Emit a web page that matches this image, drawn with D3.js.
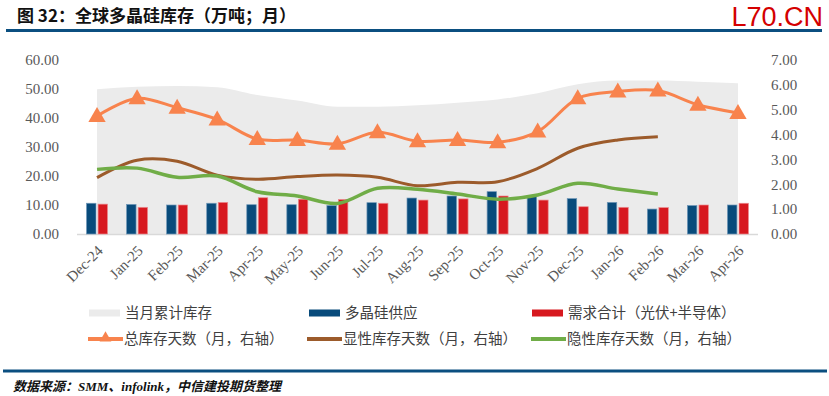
<!DOCTYPE html>
<head>
  <meta charset="utf-8">
  <script src="https://cdn.jsdelivr.net/npm/d3@7"></script>
  <style>
    body { margin:0; background:white; }
    svg { display:block; }
    .axis text { font-family: "Liberation Serif", serif; font-size: 15px; fill: #595959; }
    .legend text { font-family: "Noto Sans CJK SC", sans-serif; font-size: 14.5px; fill: #404040; }
  </style>
</head>

<body>
  <script>
    var months = ["Dec-24","Jan-25","Feb-25","Mar-25","Apr-25","May-25","Jun-25","Jul-25","Aug-25",
                  "Sep-25","Oct-25","Nov-25","Dec-25","Jan-26","Feb-26","Mar-26","Apr-26"];
    // 当月累计库存 (万吨, left axis)
    var stock = [49.9,50.8,51.0,50.6,47.9,46.0,43.9,43.9,44.4,45.3,46.4,48.5,51.6,52.9,52.9,52.5,52.0];
    // 多晶硅供应
    var supply = [10.6,10.2,10.0,10.6,10.1,10.1,9.8,10.8,12.4,13.1,14.6,12.9,12.2,10.9,8.6,9.8,10.0];
    // 需求合计（光伏+半导体）
    var demand = [10.3,9.2,10.0,10.9,12.5,12.0,11.9,10.6,11.7,12.1,13.1,11.7,9.4,9.2,9.1,10.0,10.6];
    // 总库存天数 (月, right axis)
    var totalDays = [4.75,5.46,5.08,4.61,3.82,3.78,3.63,4.09,3.73,3.78,3.69,4.12,5.46,5.73,5.77,5.20,4.87];
    // 显性库存天数 (to Feb-26)
    var visibleDays = [2.27,2.97,2.93,2.37,2.20,2.31,2.37,2.28,1.94,2.08,2.10,2.64,3.45,3.78,3.91];
    // 隐性库存天数 (to Feb-26)
    var hiddenDays = [2.60,2.65,2.28,2.33,1.70,1.53,1.23,1.84,1.80,1.61,1.40,1.57,2.04,1.81,1.61];
    var leftTicks = [0,10,20,30,40,50,60];
    var rightTicks = [0,1,2,3,4,5,6,7];

    var width = 829, height = 396;
    var svg = d3.select("body").append("svg").attr("width", width).attr("height", height);

    // header
    svg.append("text").attr("x", 17).attr("y", 22)
      .style("font-family", "'Noto Sans CJK SC', sans-serif").style("font-size", "17px")
      .style("font-weight", "bold").attr("fill", "#111")
      .text("图 32：全球多晶硅库存（万吨；月）");
    svg.append("text").attr("x", 823).attr("y", 26).attr("text-anchor", "end")
      .style("font-family", "'Liberation Sans', Arial, sans-serif").style("font-size", "27px")
      .attr("fill", "#d40000").text("L70.CN");
    svg.append("rect").attr("x", 6).attr("y", 29).attr("width", 816).attr("height", 3).attr("fill", "#0b4f80");

    var x = d3.scaleBand().domain(months).range([77, 758]);
    var sub = d3.scaleBand().domain(["supply","demand"]).range([-10.5, 10.5]).paddingInner(0.18);
    var yL = d3.scaleLinear().domain([0, 60]).range([234, 60]);
    var yR = d3.scaleLinear().domain([0, 7]).range([234, 60]);
    var cx = function(i) { return x(months[i]) + x.bandwidth() / 2; };

    // stock area
    svg.append("path")
      .datum(stock)
      .attr("fill", "#ebebeb")
      .attr("d", d3.area().curve(d3.curveMonotoneX)
        .x(function(d, i) { return cx(i); })
        .y0(yL(0)).y1(function(d) { return yL(d); }));

    // axis base line
    svg.append("line").attr("x1", 77).attr("x2", 758).attr("y1", 234.5).attr("y2", 234.5)
      .attr("stroke", "#d9d9d9").attr("stroke-width", 1.5);

    // bars
    var bars = svg.append("g");
    bars.selectAll("rect.supply").data(supply).enter().append("rect")
      .attr("class", "supply")
      .attr("x", function(d, i) { return cx(i) + sub("supply"); })
      .attr("width", sub.bandwidth())
      .attr("y", function(d) { return yL(d); })
      .attr("height", function(d) { return yL(0) - yL(d); })
      .attr("fill", "#084b7b").attr("stroke", "#6f97b8").attr("stroke-width", 0.7);
    bars.selectAll("rect.demand").data(demand).enter().append("rect")
      .attr("class", "demand")
      .attr("x", function(d, i) { return cx(i) + sub("demand"); })
      .attr("width", sub.bandwidth())
      .attr("y", function(d) { return yL(d); })
      .attr("height", function(d) { return yL(0) - yL(d); })
      .attr("fill", "#d7181f").attr("stroke", "#eb8a8e").attr("stroke-width", 0.7);

    var line = d3.line().curve(d3.curveCatmullRom.alpha(0.5))
      .x(function(d, i) { return cx(i); })
      .y(function(d) { return yR(d); });

    svg.append("path").datum(visibleDays).attr("fill", "none")
      .attr("stroke", "#9c5b2b").attr("stroke-width", 3).attr("d", line);
    svg.append("path").datum(hiddenDays).attr("fill", "none")
      .attr("stroke", "#70ad47").attr("stroke-width", 3.5).attr("d", line);
    svg.append("path").datum(totalDays).attr("fill", "none")
      .attr("stroke", "#f8834d").attr("stroke-width", 3).attr("d", line);

    var tri = d3.symbol().type(d3.symbolTriangle).size(130);
    svg.selectAll("path.tri").data(totalDays).enter().append("path")
      .attr("class", "tri")
      .attr("d", tri)
      .attr("fill", "#f8834d")
      .attr("transform", function(d, i) { return "translate(" + cx(i) + "," + (yR(d) + 1) + ")"; });

    // axes
    var gl = svg.append("g").attr("class", "axis").attr("transform", "translate(64,0)")
      .call(d3.axisLeft(yL).tickValues(leftTicks).tickFormat(d3.format(".2f")).tickSize(0).tickPadding(5));
    gl.select(".domain").remove();
    var gr = svg.append("g").attr("class", "axis").attr("transform", "translate(766,0)")
      .call(d3.axisRight(yR).tickValues(rightTicks).tickFormat(d3.format(".2f")).tickSize(0).tickPadding(5));
    gr.select(".domain").remove();

    svg.append("g").attr("class", "axis")
      .selectAll("text").data(months).enter().append("text")
      .attr("text-anchor", "end")
      .attr("dy", "0.35em")
      .attr("transform", function(d) { return "translate(" + (x(d) + x.bandwidth() / 2 + 3) + ",248) rotate(-45)"; })
      .text(function(d) { return d; });

    // legend
    var lg = svg.append("g").attr("class", "legend");
    var rects = [
      {x: 89, c: "#ebebeb", t: "当月累计库存"},
      {x: 309, c: "#084b7b", t: "多晶硅供应"},
      {x: 532, c: "#d7181f", t: "需求合计（光伏+半导体）"}
    ];
    rects.forEach(function(r) {
      lg.append("rect").attr("x", r.x).attr("y", 309.5).attr("width", 31).attr("height", 7).attr("fill", r.c);
      lg.append("text").attr("x", r.x + 36).attr("y", 313).attr("dy", "0.35em").text(r.t);
    });
    var lines = [
      {x: 88, c: "#f8834d", t: "总库存天数（月，右轴）", tri: true},
      {x: 307, c: "#9c5b2b", t: "显性库存天数（月，右轴）"},
      {x: 531, c: "#70ad47", t: "隐性库存天数（月，右轴）"}
    ];
    lines.forEach(function(l) {
      lg.append("line").attr("x1", l.x).attr("x2", l.x + 35).attr("y1", 339).attr("y2", 339)
        .attr("stroke", l.c).attr("stroke-width", 4);
      if (l.tri) {
        lg.append("path").attr("d", d3.symbol().type(d3.symbolTriangle).size(60))
          .attr("fill", l.c).attr("transform", "translate(" + (l.x + 17.5) + ",338)");
      }
      lg.append("text").attr("x", l.x + 36).attr("y", 339).attr("dy", "0.35em").text(l.t);
    });

    // footer
    svg.append("rect").attr("x", 3).attr("y", 369.5).attr("width", 824).attr("height", 3).attr("fill", "#0b4f80");
    svg.append("text").attr("x", 13).attr("y", 391)
      .style("font-family", "'Liberation Serif', 'Noto Sans CJK SC', serif").style("font-size", "13px")
      .style("font-style", "italic").style("font-weight", "bold").attr("fill", "#111")
      .text("数据来源：SMM、infolink，中信建投期货整理");
  </script>
</body>
